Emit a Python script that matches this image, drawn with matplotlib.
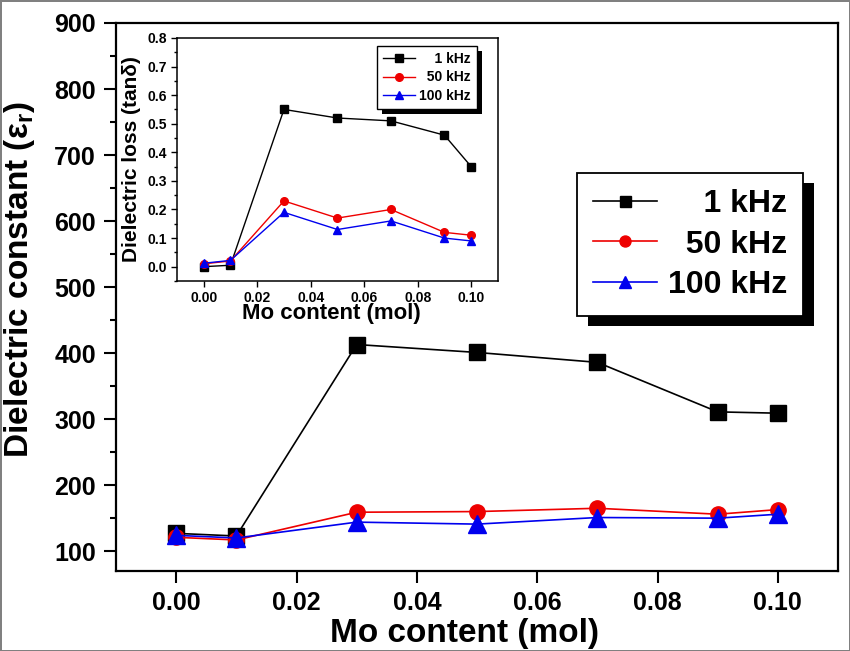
import matplotlib
matplotlib.use("Agg")
import matplotlib.pyplot as plt
from matplotlib.patches import Rectangle
from matplotlib.ticker import MultipleLocator

plt.rcParams['font.family'] = ['Liberation Sans', 'DejaVu Sans']
plt.rcParams['font.weight'] = 'bold'
plt.rcParams['mathtext.fontset'] = 'custom'
plt.rcParams['mathtext.rm'] = 'Liberation Sans:bold'
plt.rcParams['mathtext.it'] = 'Liberation Sans:bold'

# ---- data ----
mo = [0.00, 0.01, 0.03, 0.05, 0.07, 0.09, 0.10]
labels = ["1 kHz", "50 kHz", "100 kHz"]
eps_1k = [127, 123, 413, 401, 386, 311, 309]
eps_50k = [121, 117, 159, 160, 165, 156, 163]
eps_100k = [124, 120, 144, 141, 151, 150, 156]
tan_1k = [0.000, 0.005, 0.55, 0.52, 0.51, 0.46, 0.35]
tan_50k = [0.010, 0.020, 0.23, 0.17, 0.20, 0.12, 0.11]
tan_100k = [0.012, 0.022, 0.19, 0.13, 0.16, 0.10, 0.09]
xticks = [0.00, 0.02, 0.04, 0.06, 0.08, 0.10]

colors = ['black', '#ee0000', '#0000ee']
markers = ['s', 'o', '^']
FS = '\u2007'
leg_labels = [FS * 2 + labels[0], FS + labels[1], labels[2]]

fig = plt.figure(figsize=(8.5, 6.51), dpi=100)
fig.patch.set_facecolor('white')
fig.patch.set_edgecolor('#808080')
fig.patch.set_linewidth(2.0)

# ---- main axes ----
ax = fig.add_axes([0.1365, 0.1229, 0.8494, 0.8418])
ax.set_facecolor('none')
main_sizes = [11, 11, 12.5]
for ys, c, m, lab, ms in zip([eps_1k, eps_50k, eps_100k], colors, markers, leg_labels, main_sizes):
    ax.plot(mo, ys, color=c, marker=m, markersize=ms, lw=1.2, label=lab,
            markeredgecolor=c, markerfacecolor=c)
ax.set_xlim(-0.01, 0.11)
ax.set_ylim(70, 900)
ax.set_xticks(xticks)
ax.set_xticklabels([f"{v:.2f}" for v in xticks])
ax.yaxis.set_major_locator(MultipleLocator(100))
ax.yaxis.set_minor_locator(MultipleLocator(50))
ax.set_yticks([100, 200, 300, 400, 500, 600, 700, 800, 900])
ax.tick_params(axis='both', which='major', direction='out', length=8.5, width=1.5,
               labelsize=18, pad=6)
ax.tick_params(axis='x', which='major', pad=6)
ax.tick_params(axis='y', which='minor', direction='out', length=4.5, width=1.5)
for s in ax.spines.values():
    s.set_linewidth(1.6)
ax.set_xlabel("Mo content (mol)", fontsize=24, fontweight='bold')
ax.xaxis.set_label_coords(0.482, -0.085)
ax.set_ylabel(r"Dielectric constant (ε$_\mathregular{r}$)", fontsize=24,
              fontweight='bold')
ax.yaxis.set_label_coords(-0.110, 0.531)

leg = ax.legend(loc='upper left', bbox_to_anchor=(0.638, 0.726), borderaxespad=0,
                frameon=True, fancybox=False, edgecolor='black',
                framealpha=1, handlelength=2.0, handletextpad=0.35, labelspacing=0.33,
                borderpad=0.5, markerscale=0.72, prop={'weight': 'bold', 'size': 23})
leg.get_frame().set_linewidth(1.3)

# ---- inset axes ----
ins = fig.add_axes([0.2082, 0.5684, 0.3776, 0.3733])
ins.set_facecolor('white')
for ys, c, m, lab in zip([tan_1k, tan_50k, tan_100k], colors, markers, leg_labels):
    ins.plot(mo, ys, color=c, marker=m, markersize=5.5, lw=1.0, label=lab,
             markeredgecolor=c, markerfacecolor=c)
ins.set_xlim(-0.01, 0.11)
ins.set_ylim(-0.05, 0.8)
ins.set_xticks(xticks)
ins.set_xticklabels([f"{v:.2f}" for v in xticks])
ins.yaxis.set_major_locator(MultipleLocator(0.1))
ins.yaxis.set_minor_locator(MultipleLocator(0.05))
ins.yaxis.set_major_formatter(matplotlib.ticker.FormatStrFormatter('%.1f'))
ins.tick_params(axis='both', which='major', direction='out', length=4, width=1.0,
                labelsize=10, pad=3)
ins.tick_params(axis='y', which='minor', direction='out', length=2.2, width=1.0)
for s in ins.spines.values():
    s.set_linewidth(1.1)
ins.set_xlabel("Mo content (mol)", fontsize=16, fontweight='bold')
ins.xaxis.set_label_coords(0.48, -0.092)
ins.set_ylabel("Dielectric loss (tanδ)", fontsize=15, fontweight='bold')
ins.yaxis.set_label_coords(-0.112, 0.50)

leg2 = ins.legend(loc='upper left', bbox_to_anchor=(0.623, 0.967), borderaxespad=0,
                  frameon=True, fancybox=False, edgecolor='black', framealpha=1,
                  handlelength=2.3, handletextpad=0.3, labelspacing=0.3,
                  borderpad=0.45, markerscale=1.0, prop={'weight': 'bold', 'size': 10})
leg2.get_frame().set_linewidth(1.0)

# ---- legend shadows ----
fig.canvas.draw()
inv = fig.transFigure.inverted()
for a, lg, dx, dy in [(ax, leg, 11, 10), (ins, leg2, 5, 5)]:
    bb = lg.get_frame().get_window_extent()
    (x0, y0) = inv.transform((bb.x0 + dx, bb.y0 - dy))
    (x1, y1) = inv.transform((bb.x1 + dx, bb.y1 - dy))
    r = Rectangle((x0, y0), x1 - x0, y1 - y0, transform=fig.transFigure,
                  facecolor='black', edgecolor='none', zorder=4.9, clip_on=False)
    a.add_artist(r)

fig.savefig("out.png", dpi=100, facecolor=fig.get_facecolor(), edgecolor=fig.get_edgecolor())
